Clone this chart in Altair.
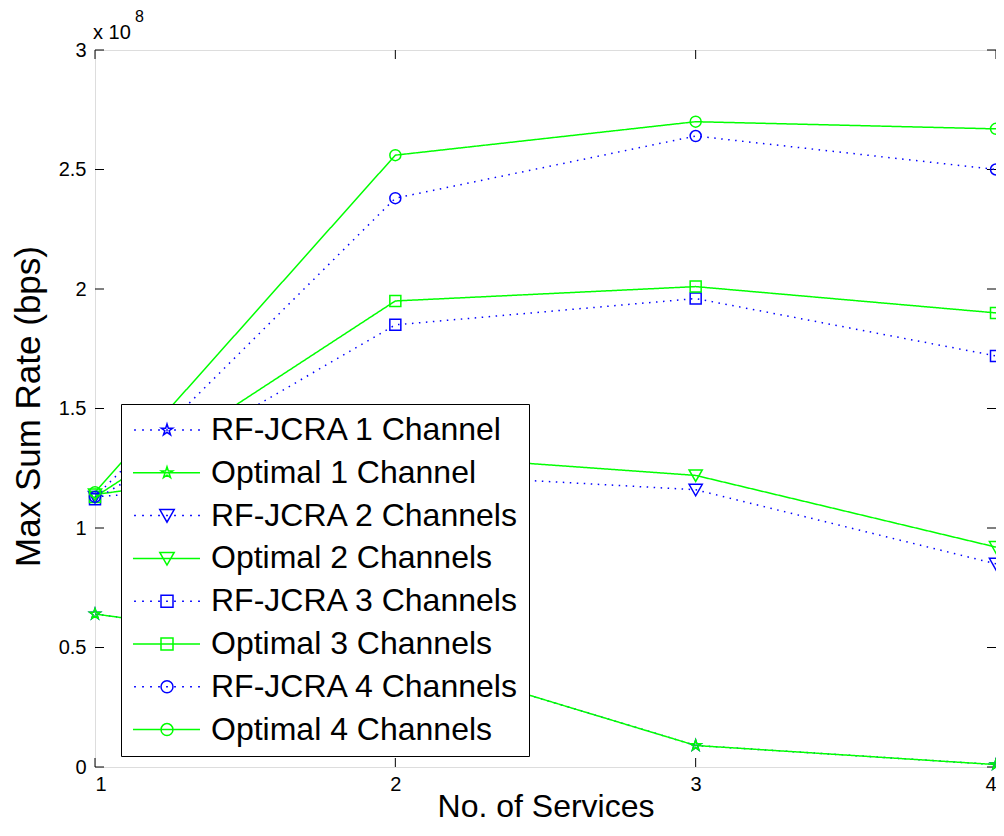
import altair as alt
import pandas as pd

# ---------------- data (values in units of 1e8 bps) ----------------
x_services = [1, 2, 3, 4]
series_names = [
    "RF-JCRA 1 Channel", "Optimal 1 Channel",
    "RF-JCRA 2 Channels", "Optimal 2 Channels",
    "RF-JCRA 3 Channels", "Optimal 3 Channels",
    "RF-JCRA 4 Channels", "Optimal 4 Channels",
]
rf1 = [0.64, 0.47, 0.09, 0.01]
opt1 = [0.64, 0.47, 0.09, 0.01]
rf2 = [1.13, 1.23, 1.16, 0.85]
opt2 = [1.14, 1.31, 1.22, 0.92]
rf3 = [1.12, 1.85, 1.96, 1.72]
opt3 = [1.13, 1.95, 2.01, 1.90]
rf4 = [1.13, 2.38, 2.64, 2.50]
opt4 = [1.15, 2.56, 2.70, 2.67]
all_series = [rf1, opt1, rf2, opt2, rf3, opt3, rf4, opt4]

y_ticks = [0, 0.5, 1, 1.5, 2, 2.5, 3]
x_ticks = [1, 2, 3, 4]

rows = []
for name, vals in zip(series_names, all_series):
    for xv, yv in zip(x_services, vals):
        rows.append({"series": name, "x": xv, "y": yv})
df = pd.DataFrame(rows)

# ---------------- styles ----------------
BLUE, GREEN = "#0000ff", "#00ff00"
colors = [BLUE, GREEN] * 4
dashes = [[1.5, 5.5], [1, 0]] * 4

STAR = ("M0,-1L0.2245,-0.309L0.951,-0.309L0.363,0.118L0.588,0.809L0,0.382"
        "L-0.588,0.809L-0.363,0.118L-0.951,-0.309L-0.2245,-0.309Z")
TRI = "M-1.2,-1L1.2,-1L0,1.1Z"
SQR = "M-1,-1H1V1H-1Z"
CIR = "M1,0A1,1 0 1,1 -1,0A1,1 0 1,1 1,0Z"
plot_shapes = [STAR, STAR, TRI, TRI, SQR, SQR, CIR, CIR]

SOLID = "M-5.67,0H5.5"
DOTS = "".join("M%.3f,0h0.3" % (p - 0.15) for p in [-5.333, -4, -2.667, -1.333, 0, 1.333, 2.667, 4, 5.333])
legend_shapes = []
for i, m in enumerate(plot_shapes):
    legend_shapes.append((DOTS if i % 2 == 0 else SOLID) + m)

W, H = 901, 717
FONT = "Liberation Sans"

x_scale = alt.Scale(domain=[1, 4], nice=False, zero=False)
y_scale = alt.Scale(domain=[0, 3], nice=False, zero=False)

x_axis = alt.Axis(values=x_ticks, format="d", ticks=False, domain=False, grid=False,
                  labelFontSize=20, labelPadding=7, labelColor="black", labelFont=FONT,
                  title="No. of Services", titleFontSize=32, titleFontWeight="normal",
                  titleColor="black", titleFont=FONT, titlePadding=-3)
y_axis = alt.Axis(values=y_ticks, format=".1~f", ticks=False, domain=False, grid=False,
                  labelFontSize=20, labelPadding=9, labelColor="black", labelFont=FONT,
                  title="Max Sum Rate (bps)", titleFontSize=35, titleFontWeight="normal",
                  titleColor="black", titleFont=FONT, titlePadding=12, titleY=356)


def X():
    return alt.X("x:Q", scale=x_scale, axis=x_axis)


def Y():
    return alt.Y("y:Q", scale=y_scale, axis=y_axis)


color_scale = alt.Scale(domain=series_names, range=colors)

base = alt.Chart(df)

lines = base.mark_line(strokeWidth=1.5).encode(
    x=X(), y=Y(),
    color=alt.Color("series:N", scale=color_scale, legend=None),
    strokeDash=alt.StrokeDash("series:N", scale=alt.Scale(domain=series_names, range=dashes), legend=None),
)

points = base.mark_point(filled=False, size=121, strokeWidth=1.5, opacity=1).encode(
    x=X(), y=Y(),
    color=alt.Color("series:N", scale=color_scale, legend=None),
    shape=alt.Shape("series:N", scale=alt.Scale(domain=series_names, range=plot_shapes), legend=None),
)

leg_props = dict(orient="none", legendX=26, legendY=354, title=None,
                 labelFontSize=32, labelFont=FONT, labelColor="black", labelLimit=0,
                 symbolSize=144, symbolStrokeWidth=1.5, symbolOffset=20, labelOffset=28,
                 rowPadding=10.8, padding=10, strokeColor="black", fillColor="white")

legend_layer = base.transform_filter("false").mark_point(filled=False, strokeWidth=1.5, opacity=1).encode(
    x=X(), y=Y(),
    color=alt.Color("series:N", scale=color_scale, legend=alt.Legend(**leg_props)),
    shape=alt.Shape("series:N", scale=alt.Scale(domain=series_names, range=legend_shapes),
                    legend=alt.Legend(**leg_props)),
)

ty = alt.Chart(pd.DataFrame({"y": y_ticks}))
tx = alt.Chart(pd.DataFrame({"x": x_ticks}))
left_t = ty.mark_rule(color="black", strokeWidth=1).encode(y=Y(), x=alt.value(0), x2=alt.value(9))
right_t = ty.mark_rule(color="black", strokeWidth=1).encode(y=Y(), x=alt.value(W), x2=alt.value(W - 9))
bot_t = tx.mark_rule(color="black", strokeWidth=1).encode(x=X(), y=alt.value(H), y2=alt.value(H - 9))
top_t = tx.mark_rule(color="black", strokeWidth=1).encode(x=X(), y=alt.value(0), y2=alt.value(9))

expo = alt.Chart(pd.DataFrame({"t": ["x 10"]})).mark_text(
    align="left", baseline="alphabetic", fontSize=20, font=FONT, color="black"
).encode(text="t:N", x=alt.value(-2), y=alt.value(-11))
expo8 = alt.Chart(pd.DataFrame({"t": ["8"]})).mark_text(
    align="left", baseline="alphabetic", fontSize=16, font=FONT, color="black"
).encode(text="t:N", x=alt.value(40), y=alt.value(-28))

chart = alt.layer(
    left_t, right_t, bot_t, top_t, lines, points, legend_layer, expo, expo8
).resolve_scale(
    color="independent", shape="independent", strokeDash="independent"
).properties(
    width=W, height=H,
    padding={"left": 87, "top": 42, "right": 0, "bottom": 55},
    autosize=alt.AutoSizeParams(type="none"),
).configure_view(
    stroke="black", strokeWidth=1
).configure(font=FONT, background="white")

chart.save("out.html", embed_options={"renderer": "svg", "actions": False})
